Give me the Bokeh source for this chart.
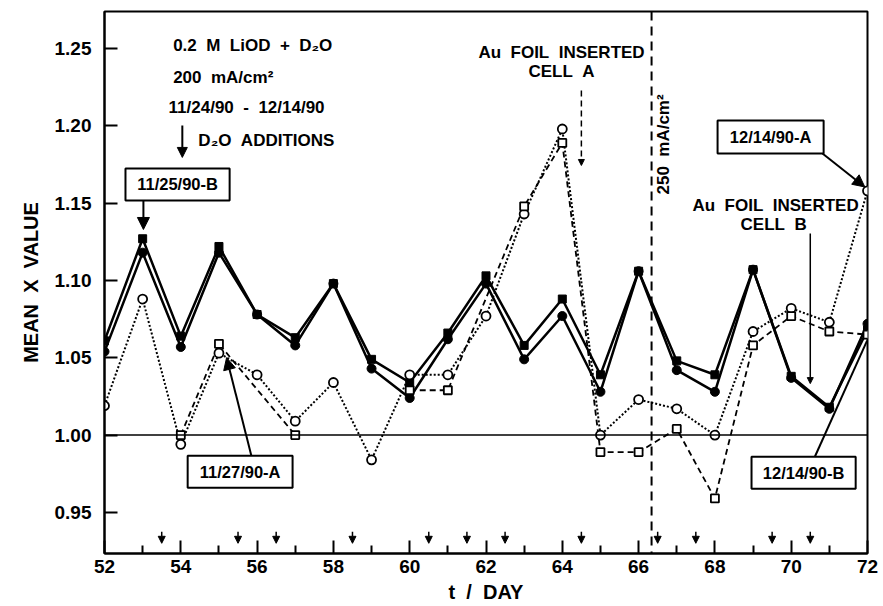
import math
from bokeh.plotting import figure
from bokeh.models import (Span, Label, Arrow, NormalHead, BoxAnnotation, FixedTicker,
                          PrintfTickFormatter, Range1d, ColumnDataSource)
from bokeh.embed import file_html
from bokeh.resources import INLINE

# ---------------- data ----------------
days = list(range(52, 73))
# Cell B (filled symbols)
b_square = [1.061, 1.127, 1.064, 1.122, 1.078, 1.063, 1.098, 1.049, 1.034, 1.066, 1.103,
            1.058, 1.088, 1.039, 1.106, 1.048, 1.039, 1.107, 1.038, 1.018, 1.068]
b_circle = [1.054, 1.118, 1.057, 1.118, 1.078, 1.058, 1.098, 1.043, 1.024, 1.062, 1.098,
            1.049, 1.077, 1.028, 1.106, 1.042, 1.028, 1.107, 1.037, 1.017, 1.072]
# Cell A (open symbols)
a_circle = [1.019, 1.088, 0.994, 1.053, 1.039, 1.009, 1.034, 0.984, 1.039, 1.039, 1.077,
            1.143, 1.198, 1.000, 1.023, 1.017, 1.000, 1.067, 1.082, 1.073, 1.158]
a_square_days = [54, 55, 57, 58, 60, 61, 63, 64, 65, 66, 67, 68, 69, 70, 71, 72]
a_square = [1.000, 1.059, 1.000, float("nan"), 1.029, 1.029, 1.148, 1.189, 0.989, 0.989,
            1.004, 0.959, 1.058, 1.077, 1.067, 1.065]
# D2O addition times
d2o_days = [53.5, 55.5, 56.5, 58.5, 60.5, 61.5, 62.5, 64.5, 66.5, 67.5, 69.5, 70.5]
x_ticks = list(range(52, 73, 2))
x_minor = list(range(53, 72, 2))
y_ticks = [0.95, 1.00, 1.05, 1.10, 1.15, 1.20, 1.25]

FONT = "Liberation Sans"
SP = "\u00a0\u00a0"


def sp(s):
    return s.replace(" ", SP)


p = figure(width=883, height=606, output_backend="svg", toolbar_location=None,
           x_range=Range1d(52, 72), y_range=Range1d(0.9234, 1.274),
           min_border_left=104, min_border_right=16, min_border_top=11, min_border_bottom=53)
p.background_fill_color = "white"
p.border_fill_color = "white"
p.outline_line_color = "black"
p.outline_line_width = 2
p.xgrid.visible = False
p.ygrid.visible = False

# axes
p.xaxis.ticker = FixedTicker(ticks=x_ticks, minor_ticks=x_minor)
p.yaxis.ticker = FixedTicker(ticks=y_ticks)
p.yaxis.formatter = PrintfTickFormatter(format="%.2f")
for ax in (p.xaxis[0], p.yaxis[0]):
    ax.axis_line_width = 2
    ax.axis_line_color = "black"
    ax.major_tick_in = 13
    ax.major_tick_out = 0
    ax.major_tick_line_width = 2
    ax.major_label_text_font = FONT
    ax.major_label_text_font_style = "bold"
    ax.major_label_text_font_size = "19px"
    ax.major_label_text_color = "black"
    ax.axis_label_text_font = FONT
    ax.axis_label_text_font_style = "bold"
    ax.axis_label_text_font_size = "20px"
    ax.axis_label_text_color = "black"
p.xaxis.minor_tick_in = 8
p.xaxis.minor_tick_out = 0
p.xaxis.minor_tick_line_width = 2
p.yaxis.minor_tick_line_color = None
p.xaxis.major_label_standoff = 6
p.yaxis.major_label_standoff = 13
p.xaxis.axis_label = sp("t / DAY")
p.yaxis.axis_label = sp("MEAN X VALUE")
p.xaxis.axis_label_standoff = 5
p.yaxis.axis_label_standoff = 10

# reference lines
p.add_layout(Span(location=1.0, dimension="width", line_color="black", line_width=1.5))
p.add_layout(Span(location=66.34, dimension="height", line_color="black", line_width=2,
                  line_dash="9 6"))

# series lines
p.line(days, b_square, line_color="black", line_width=2.5)
p.line(days, b_circle, line_color="black", line_width=2.5)
p.line(days, a_circle, line_color="black", line_width=2, line_dash="2 2")
p.line(a_square_days, a_square, line_color="black", line_width=1.8, line_dash="6 4")

# markers
p.scatter(days, b_square, marker="square", size=8, fill_color="black", line_color="black")
p.scatter(days, b_circle, marker="circle", size=9, fill_color="black", line_color="black")
p.scatter(days, a_circle, marker="circle", size=9, fill_color="white", line_color="black",
          line_width=1.8)
p.scatter(a_square_days, a_square, marker="square", size=8, fill_color="white",
          line_color="black", line_width=1.8)

# D2O addition arrows along the bottom
src = ColumnDataSource(dict(x=d2o_days, y0=[0.9375] * len(d2o_days), y1=[0.9300] * len(d2o_days)))
p.add_layout(Arrow(end=NormalHead(size=7, fill_color="black", line_color="black"),
                   x_start="x", y_start="y0", x_end="x", y_end="y1", source=src,
                   line_width=1.5, line_color="black"))


def lbl(x, y, text, size="17px", align="left", angle=0.0):
    p.add_layout(Label(x=x, y=y, text=text, text_font=FONT, text_font_style="bold",
                       text_font_size=size, text_align=align, text_baseline="middle",
                       text_color="black", angle=angle))


def box(left, right, bottom, top, text):
    p.add_layout(BoxAnnotation(left=left, right=right, bottom=bottom, top=top,
                               fill_color="white", fill_alpha=1.0, line_color="black",
                               line_width=2, line_alpha=1.0))
    lbl((left + right) / 2, (bottom + top) / 2, text, size="16.5px", align="center")


def arrow(x0, y0, x1, y1, head=10, dash="solid", width=2):
    end = NormalHead(size=head, fill_color="black", line_color="black") if head else None
    p.add_layout(Arrow(end=end, x_start=x0, y_start=y0, x_end=x1, y_end=y1,
                       line_width=width, line_color="black", line_dash=dash))


# header texts
lbl(53.80, 1.2520, sp("0.2 M LiOD + D\u2082O"))
lbl(53.80, 1.2313, sp("200 mA/cm\u00b2"))
lbl(53.68, 1.2119, sp("11/24/90 - 12/14/90"))
lbl(54.46, 1.1905, sp("D\u2082O ADDITIONS"))
arrow(54.04, 1.2003, 54.04, 1.1796, head=10)

# boxed callouts
box(52.55, 55.28, 1.1517, 1.1725, "11/25/90-B")
arrow(53.02, 1.1517, 53.02, 1.1330, head=12)
box(54.18, 56.93, 0.9660, 0.9867, "11/27/90-A")
arrow(55.85, 0.9867, 55.20, 1.0501, head=12)
box(68.07, 70.85, 1.1821, 1.2035, "12/14/90-A")
arrow(70.82, 1.1821, 71.93, 1.1605, head=12)
box(68.96, 71.69, 0.9653, 0.9860, "12/14/90-B")
arrow(70.62, 0.9860, 71.99, 1.0611, head=0)

# Au foil annotations
lbl(63.98, 1.2475, sp("Au FOIL INSERTED"), align="center")
lbl(63.98, 1.2352, sp("CELL A"), align="center")
arrow(64.50, 1.2229, 64.50, 1.1744, head=6, dash="6 4", width=1.5)
lbl(69.59, 1.1485, sp("Au FOIL INSERTED"), align="center")
lbl(69.54, 1.1362, sp("CELL B"), align="center")
arrow(70.50, 1.1304, 70.50, 1.0333, head=6, width=1.5)

# current change
lbl(66.65, 1.188, sp("250 mA/cm\u00b2"), size="17px", align="center", angle=math.pi / 2)

open("out.html", "w").write(file_html(p, INLINE))
